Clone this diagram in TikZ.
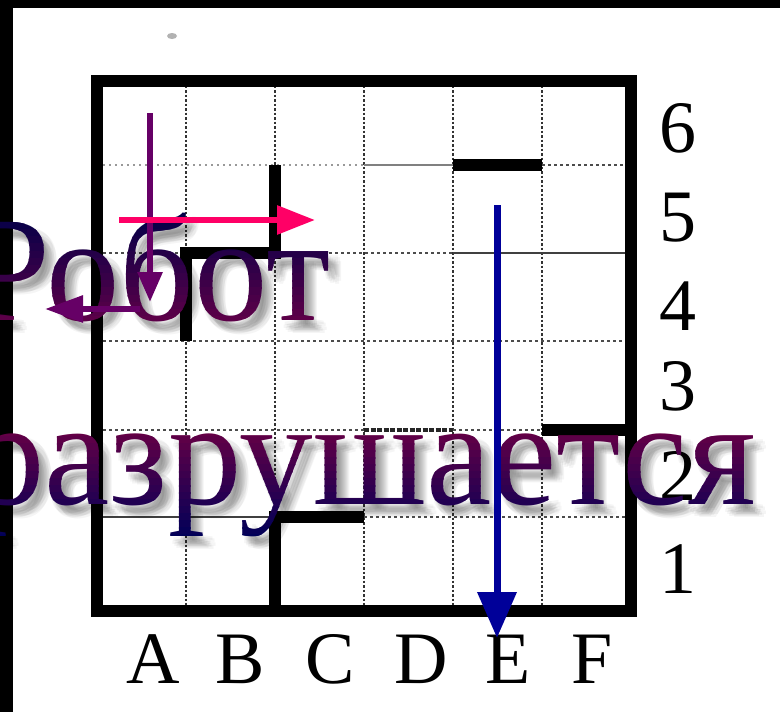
\documentclass[tikz,border=0pt]{standalone}
\usepackage{fontspec}
\setmainfont{Liberation Serif}
\usetikzlibrary{arrows.meta}
\newcommand{\bigtxt}{\fontsize{150}{170}\selectfont}
\newcommand{\labtxt}{\fontsize{74}{74}\selectfont}
\definecolor{navyA}{RGB}{0,0,72}
\definecolor{maroonA}{RGB}{92,0,72}
\definecolor{maroonB}{RGB}{100,0,70}
\definecolor{navyB}{RGB}{0,0,88}
\definecolor{pinkC}{RGB}{255,0,102}
\definecolor{purpleC}{RGB}{102,0,102}
\definecolor{blueC}{RGB}{0,0,153}
\begin{document}
\begin{tikzpicture}[x=1pt,y=-1pt,
  gridv/.style={line width=2pt, black!80, dash pattern=on 2.5pt off 2pt},
  gridh/.style={line width=1.6pt, black!70, dash pattern=on 3pt off 3pt},
  faint/.style={line width=1.2pt, black!40, dash pattern=on 2pt off 4pt},
  thinline/.style={line width=1.5pt, black!75},
  wall/.style={line width=11.5pt, black, line join=miter},
  medwall/.style={line width=3.5pt, black!85, dash pattern=on 5pt off 1.5pt},
  border/.style={line width=11.5pt, black},
  lab/.style={font=\labtxt, inner sep=0pt, anchor=base},
  big/.style={font=\bigtxt, inner sep=0pt, anchor=base west, xscale=0.98, transform shape},
  shadowtxt/.style={big, text=black, text opacity=0.04},
  pinkarrow/.style={line width=6pt, draw=pinkC, -{Triangle[width=28pt,length=38pt]}},
  purplearrow/.style={line width=6pt, draw=purpleC, -{Triangle[width=24pt,length=30pt]}},
  bluearrow/.style={line width=7pt, draw=blueC, -{Triangle[width=38pt,length=46pt]}}
]
% canvas
\fill[white] (0,0) rectangle (780,712);
\useasboundingbox (0,0) rectangle (780,712);
\fill[gray!60] (172,36) ellipse (5 and 3);

% vertical grid lines
\foreach \x in {186,275,364,453,542} \draw[gridv] (\x,81) -- (\x,611);
% horizontal grid lines
\draw[faint] (97,165) -- (364,165);
\draw[thinline, black!50] (364,165) -- (453,165);
\draw[gridh] (542,165) -- (631,165);
\draw[gridh] (97,253) -- (186,253);
\draw[gridh] (275,253) -- (453,253);
\draw[thinline] (453,253) -- (631,253);
\draw[gridh] (97,341) -- (631,341);
\draw[gridh] (97,430) -- (364,430);
\draw[medwall] (364,430) -- (453,430);
\draw[gridh] (453,430) -- (542,430);
\draw[thinline] (97,517) -- (275,517);
\draw[gridh] (364,517) -- (631,517);
% walls
\draw[wall] (275,165) -- (275,253) -- (186,253) -- (186,341);
\draw[wall] (453,165) -- (542,165);
\draw[wall] (542,430) -- (631,430);
\draw[wall] (275,611) -- (275,517) -- (364,517);
% border
\draw[border] (97,81) rectangle (631,611);

% labels
\node[lab] (r6) at (678,152) {6};
\node[lab] (r5) at (678,241) {5};
\node[lab] (r4) at (678,330) {4};
\node[lab] (r3) at (678,410) {3};
\node[lab] (r2) at (678,500) {2};
\node[lab] (r1) at (678,593) {1};
\node[lab] (cA) at (153,683) {A};
\node[lab] (cB) at (240,683) {B};
\node[lab] (cC) at (330,683) {C};
\node[lab] (cD) at (421,683) {D};
\node[lab] (cE) at (508,683) {E};
\node[lab] (cF) at (592,683) {F};

% black frame strips
\fill[black] (0,0) rectangle (13,712);
\fill[black] (0,0) rectangle (780,8);

% soft shadows
\foreach \dx/\dy [count=\k] in {3/5,5/7,7/9,9/11,11/13,4/10,10/4,6/12,12/6,8/8,13/10,2/8} {
  \node[shadowtxt] (sA\k) at (-32+\dx,320+\dy) {Робот};
  \node[shadowtxt] (sB\k) at (-29+\dx,504+\dy) {разрушается};
}
% gradient text by bands
\foreach \i in {0,...,15} {
  \pgfmathsetmacro{\p}{100*\i/15}
  \pgfmathsetmacro{\ya}{208+\i*7.3-0.6}
  \pgfmathsetmacro{\yb}{208+(\i+1)*7.3+0.6}
  \begin{scope}
    \clip (-60,\ya) rectangle (780,\yb);
    \node[big, text=maroonA!\p!navyA] (tA\i) at (-32,320) {Робот};
  \end{scope}
  \pgfmathsetmacro{\yc}{430+\i*7.0-0.6}
  \pgfmathsetmacro{\yd}{430+(\i+1)*7.0+0.6}
  \begin{scope}
    \clip (-60,\yc) rectangle (780,\yd);
    \node[big, text=navyB!\p!maroonB] (tB\i) at (-29,504) {разрушается};
  \end{scope}
}

% arrows
\coordinate (pd0) at (150,113);
\coordinate (pd1) at (150,302);
\coordinate (pl0) at (140,309);
\coordinate (pl1) at (45,309);
\coordinate (pk0) at (119,220);
\coordinate (pk1) at (315,220);
\coordinate (bl0) at (497,205);
\coordinate (bl1) at (497,638);
\draw[purplearrow] (pd0) -- (pd1);
\draw[purplearrow, -{Triangle[width=26pt,length=38pt]}] (pl0) -- (pl1);
\draw[pinkarrow] (pk0) -- (pk1);
\draw[bluearrow] (bl0) -- (bl1);
\end{tikzpicture}
\end{document}
